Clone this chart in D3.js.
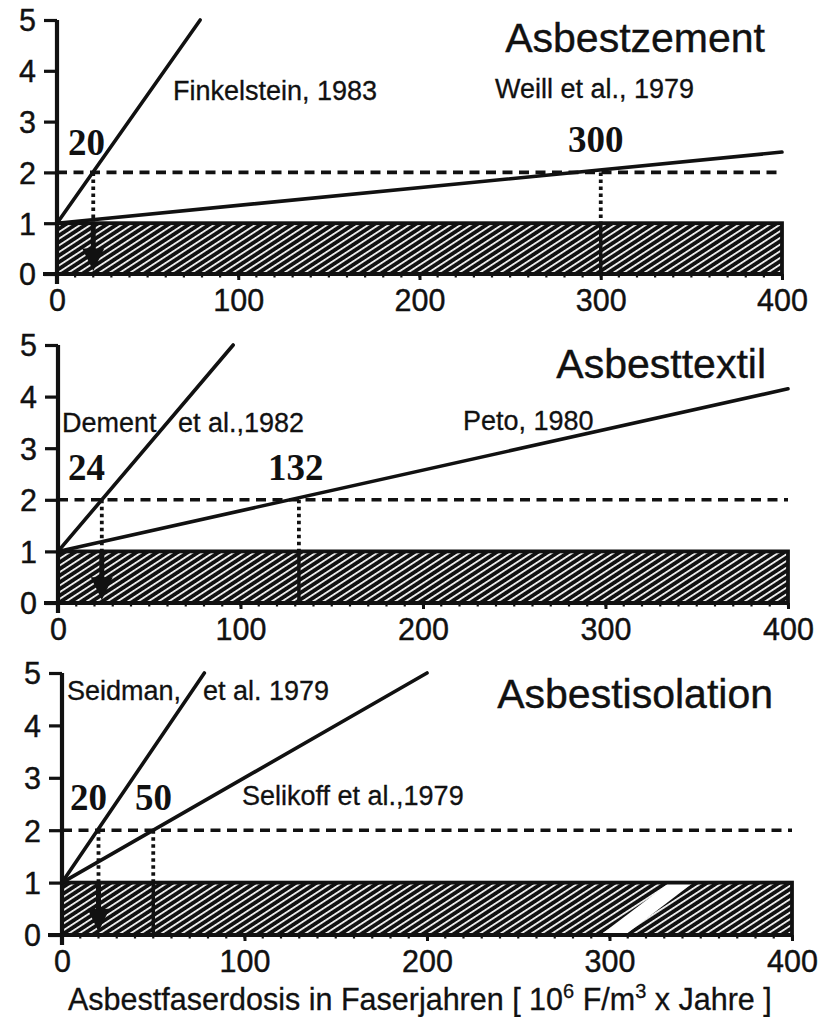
<!DOCTYPE html>
<html>
<head>
<meta charset="utf-8">
<script src="https://cdn.jsdelivr.net/npm/d3@7/dist/d3.min.js"></script>
<style>
  html, body { margin: 0; padding: 0; background: #fff; }
  svg { display: block; }
</style>
</head>
<body>
<script>
// ---------- data ----------
const xTicks = [0, 100, 200, 300, 400];
const yTicks = [0, 1, 2, 3, 4, 5];
const minorTicks = d3.range(0, 401, 10);
const panelTitles = ["Asbestzement", "Asbesttextil", "Asbestisolation"];
const baselineRisk = 1;        // hatched bar height
const doublingRisk = 2;        // dashed line
const xMax = 400;
// study lines: [x,y] start and end points
const linesP1 = [[[0, 1], [79, 5]], [[0, 1], [400, 2.4]]];
const linesP2 = [[[0, 1], [96, 5]], [[0, 1], [400, 4.15]]];
const linesP3 = [[[0, 1], [78, 5]], [[0, 1], [200, 5]]];
// doubling doses
const dosesP1 = [20, 300];
const dosesP2 = [24, 132];
const dosesP3 = [20, 50];
const doseLabelsP1 = ["20", "300"];
const doseLabelsP2 = ["24", "132"];
const doseLabelsP3 = ["20", "50"];
const studyLabelsP1 = ["Finkelstein, 1983", "Weill et al., 1979"];
const studyLabelsP2 = ["Dement", "et al.,1982", "Peto, 1980"];
const studyLabelsP3 = ["Seidman,", "et al. 1979", "Selikoff et al.,1979"];
const gapP3 = [[295, 0], [308.5, 0], [346, 1], [333, 1]]; // white strip in hatched bar
const xAxisTitle = ["Asbestfaserdosis in Faserjahren [ 10", "6", " F/m", "3", " x Jahre ]"];

// ---------- layout ----------
const W = 830, H = 1017;
const svg = d3.select("body").append("svg").attr("width", W).attr("height", H);
const defs = svg.append("defs");
const pat = defs.append("pattern").attr("id", "hatch")
  .attr("patternUnits", "userSpaceOnUse").attr("width", 10).attr("height", 5.6)
  .attr("patternTransform", "rotate(-33)");
pat.append("rect").attr("width", 10).attr("height", 5.6).attr("fill", "#111");
pat.append("rect").attr("y", 1.9).attr("width", 10).attr("height", 1.7).attr("fill", "#fff");

const SANS = "'Liberation Sans', Arial, sans-serif";
const SERIF = "'Liberation Serif', 'Times New Roman', serif";
const INK = "#111";

const panels = [
  { left: 57, right: 782, top: 20, bottom: 274, lines: linesP1, doses: dosesP1, doseLabels: doseLabelsP1,
    doseLabelPos: [[68, 155], [568, 152]], title: panelTitles[0], titlePos: [765, 52],
    labels: studyLabelsP1, labelPos: [[173, 100], [495, 98]], gap: null },
  { left: 58, right: 788, top: 345, bottom: 603, lines: linesP2, doses: dosesP2, doseLabels: doseLabelsP2,
    doseLabelPos: [[68, 480], [268, 480]], title: panelTitles[1], titlePos: [766, 378],
    labels: studyLabelsP2, labelPos: [[62, 432], [178, 432], [463, 430]], gap: null },
  { left: 62, right: 792, top: 673, bottom: 935, lines: linesP3, doses: dosesP3, doseLabels: doseLabelsP3,
    doseLabelPos: [[70, 810], [135, 810]], title: panelTitles[2], titlePos: [773, 708],
    labels: studyLabelsP3, labelPos: [[67, 700], [203, 700], [242, 805]], gap: gapP3 }
];

panels.forEach(p => {
  const x = d3.scaleLinear().domain([0, xMax]).range([p.left, p.right]);
  const y = d3.scaleLinear().domain([0, 5]).range([p.bottom, p.top]);
  const g = svg.append("g");

  // hatched bar
  g.append("rect")
    .attr("x", x(0)).attr("y", y(baselineRisk))
    .attr("width", x(xMax) - x(0)).attr("height", y(0) - y(baselineRisk))
    .attr("fill", "url(#hatch)");
  if (p.gap) {
    g.append("path")
      .attr("d", d3.line().x(d => x(d[0])).y(d => y(d[1]))(p.gap) + "Z")
      .attr("fill", "#fff");
  }
  g.append("rect")
    .attr("x", x(0)).attr("y", y(baselineRisk))
    .attr("width", x(xMax) - x(0)).attr("height", y(0) - y(baselineRisk))
    .attr("fill", "none").attr("stroke", INK).attr("stroke-width", 3.8);

  // minor ticks along x axis
  g.selectAll(".mt").data(minorTicks).enter().append("line")
    .attr("x1", d => x(d)).attr("x2", d => x(d))
    .attr("y1", y(0)).attr("y2", y(0) + 3.5)
    .attr("stroke", INK).attr("stroke-width", 2.2);

  // x axis
  const xa = g.append("g").attr("transform", `translate(0,${y(0)})`)
    .call(d3.axisBottom(x).tickValues(xTicks).tickSize(6).tickPadding(9).tickFormat(d3.format("d")));
  xa.select(".domain").attr("stroke", INK).attr("stroke-width", 3.8)
    .attr("d", `M${x(0) - 14},0H${x(xMax)}`);
  xa.selectAll(".tick line").attr("stroke", INK).attr("stroke-width", 3);
  xa.selectAll(".tick text").attr("font-family", SANS).attr("font-size", 30.5).attr("fill", INK)
    .attr("stroke", INK).attr("stroke-width", 0.4).attr("dy", "0.71em");

  // y axis
  const ya = g.append("g").attr("transform", `translate(${x(0)},0)`)
    .call(d3.axisLeft(y).tickValues(yTicks).tickSize(13).tickPadding(8).tickFormat(d3.format("d")));
  ya.select(".domain").attr("stroke", INK).attr("stroke-width", 4.2)
    .attr("d", `M0,${y(5)}V${y(0) + 10}`);
  ya.selectAll(".tick line").attr("stroke", INK).attr("stroke-width", 3.2);
  ya.selectAll(".tick text").attr("font-family", SANS).attr("font-size", 30.5).attr("fill", INK)
    .attr("stroke", INK).attr("stroke-width", 0.4).attr("dy", "0.36em");

  // dashed doubling line
  g.append("line")
    .attr("x1", x(0)).attr("x2", x(xMax)).attr("y1", y(doublingRisk)).attr("y2", y(doublingRisk))
    .attr("stroke", INK).attr("stroke-width", 3.6).attr("stroke-dasharray", "10,6.5");

  // study lines
  const lineGen = d3.line().x(d => x(d[0])).y(d => y(d[1]));
  g.selectAll(".study").data(p.lines).enter().append("path")
    .attr("d", d => lineGen(d)).attr("fill", "none")
    .attr("stroke", INK).attr("stroke-width", 3.6).attr("stroke-linecap", "round");

  // dotted verticals + arrow on the first dose
  p.doses.forEach((d, i) => {
    g.append("line")
      .attr("x1", x(d)).attr("x2", x(d)).attr("y1", y(doublingRisk)).attr("y2", y(baselineRisk))
      .attr("stroke", INK).attr("stroke-width", 3.8).attr("stroke-dasharray", "3.5,3.5");
    if (i === 0) {
      g.append("line")
        .attr("x1", x(d)).attr("x2", x(d)).attr("y1", y(baselineRisk)).attr("y2", y(0.45))
        .attr("stroke", INK).attr("stroke-width", 5);
      g.append("path")
        .attr("d", `M${x(d) - 11},${y(0.5)}L${x(d) + 11},${y(0.5)}L${x(d)},${y(0.06)}Z`)
        .attr("fill", INK);
    } else {
      g.append("line")
        .attr("x1", x(d)).attr("x2", x(d)).attr("y1", y(baselineRisk)).attr("y2", y(0))
        .attr("stroke", INK).attr("stroke-width", 3.5);
    }
  });

  // dose labels
  p.doseLabels.forEach((t, i) => {
    g.append("text").attr("x", p.doseLabelPos[i][0]).attr("y", p.doseLabelPos[i][1])
      .attr("font-family", SERIF).attr("font-weight", "bold").attr("font-size", 37)
      .attr("fill", INK).text(t);
  });

  // study labels
  p.labels.forEach((t, i) => {
    g.append("text").attr("x", p.labelPos[i][0]).attr("y", p.labelPos[i][1])
      .attr("font-family", SANS).attr("font-size", 27).attr("fill", INK)
      .attr("stroke", INK).attr("stroke-width", 0.3).text(t);
  });

  // panel title
  g.append("text").attr("x", p.titlePos[0]).attr("y", p.titlePos[1])
    .attr("text-anchor", "end").attr("font-family", SANS).attr("font-size", 41)
    .attr("fill", INK).attr("stroke", INK).attr("stroke-width", 0.4).text(p.title);
});

// x axis title with superscripts
const tt = svg.append("text").attr("x", 68).attr("y", 1010)
  .attr("font-family", SANS).attr("font-size", 30.5).attr("fill", INK)
  .attr("stroke", INK).attr("stroke-width", 0.3);
xAxisTitle.forEach((s, i) => {
  const isSup = (i === 1 || i === 3);
  tt.append("tspan").text(s)
    .attr("font-size", isSup ? 20 : 30.5)
    .attr("dy", isSup ? -12 : (i > 0 ? 12 : 0));
});
</script>
</body>
</html>
